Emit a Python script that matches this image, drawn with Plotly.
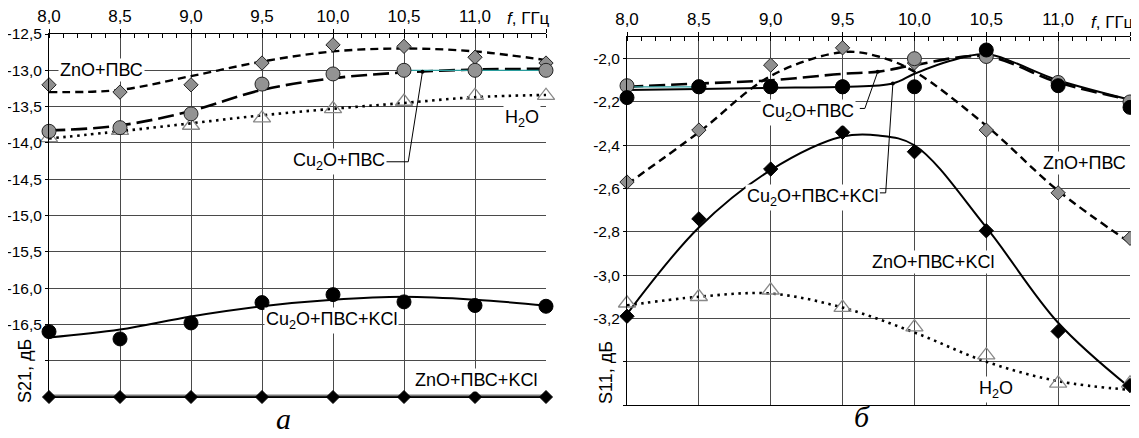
import plotly.graph_objects as go

# ---------------- data ----------------
freq = [8.0, 8.5, 9.0, 9.5, 10.0, 10.5, 11.0, 11.5]

# panel "а" : S21, dB
a_zno_pvs = [-13.2, -13.3, -13.2, -12.9, -12.65, -12.67, -12.82, -12.9]
a_zno_pvs_fit = [-13.30, -13.27, -13.08, -12.88, -12.74, -12.70, -12.74, -12.86]
a_cu2o_pvs = [-13.84, -13.79, -13.6, -13.19, -13.05, -13.0, -13.0, -13.0]
a_cu2o_pvs_fit = [-13.83, -13.76, -13.56, -13.27, -13.11, -13.03, -12.99, -12.98]
a_h2o = [-13.93, -13.83, -13.76, -13.66, -13.53, -13.43, -13.35, -13.35]
a_h2o_fit = [-13.94, -13.84, -13.73, -13.62, -13.53, -13.45, -13.37, -13.34]
a_cu2o_kcl = [-16.6, -16.7, -16.48, -16.2, -16.09, -16.19, -16.24, -16.25]
a_cu2o_kcl_fit = [-16.68, -16.57, -16.39, -16.25, -16.16, -16.12, -16.16, -16.24]
a_zno_kcl = [-17.5, -17.5, -17.5, -17.5, -17.5, -17.5, -17.5, -17.5]
a_teal_x = [10.5, 11.0, 11.5]
a_teal_y = [-13.0, -13.0, -13.0]

# panel "б" : S11, dB
b_zno_pvs = [-2.57, -2.33, -2.03, -1.95, -2.02, -2.33, -2.62, -2.83]
b_zno_pvs_fit_x = [8.0, 8.5, 9.0, 9.5, 9.75, 10.0, 10.5, 11.0, 11.5]
b_zno_pvs_fit = [-2.58, -2.34, -2.08, -1.97, -1.99, -2.06, -2.31, -2.61, -2.85]
b_cu2o_pvs = [-2.125, -2.13, -2.13, -2.13, -2.0, -1.99, -2.11, -2.2]
b_cu2o_pvs_fit_x = [8.0, 8.5, 9.0, 9.5, 9.75, 10.0, 10.5, 11.0, 11.5]
b_cu2o_pvs_fit = [-2.13, -2.115, -2.10, -2.07, -2.06, -2.03, -1.99, -2.11, -2.19]
b_cu2o_kcl = [-2.18, -2.13, -2.13, -2.13, -2.13, -1.96, -2.125, -2.225]
b_cu2o_kcl_fit_x = [8.0, 8.5, 9.0, 9.5, 9.85, 10.0, 10.25, 10.5, 11.0, 11.5]
b_cu2o_kcl_fit = [-2.145, -2.14, -2.135, -2.13, -2.115, -2.07, -2.01, -1.98, -2.10, -2.19]
b_zno_kcl = [-3.19, -2.74, -2.51, -2.34, -2.43, -2.795, -3.26, -3.51]
b_zno_kcl_fit_x = [8.0, 8.5, 9.0, 9.5, 9.75, 10.0, 10.5, 11.0, 11.5]
b_zno_kcl_fit = [-3.18, -2.78, -2.515, -2.36, -2.355, -2.40, -2.78, -3.22, -3.52]
b_h2o = [-3.13, -3.10, -3.07, -3.15, -3.24, -3.37, -3.50, -3.50]
b_h2o_fit = [-3.14, -3.10, -3.085, -3.15, -3.265, -3.40, -3.49, -3.53]
b_teal_x = [8.0, 8.5]
b_teal_y = [-2.13, -2.13]

# ticks
x_tickvals = [8.0, 8.5, 9.0, 9.5, 10.0, 10.5, 11.0, 11.5]
x_ticktext = ["8,0", "8,5", "9,0", "9,5", "10,0", "10,5", "11,0", ""]
a_y_tickvals = [-12.5, -13.0, -13.5, -14.0, -14.5, -15.0, -15.5, -16.0, -16.5, -17.0, -17.5]
a_y_ticktext = ["-12,5", "-13,0", "-13,5", "-14,0", "-14,5", "-15,0", "-15,5", "-16,0", "-16,5", "", ""]
b_y_tickvals = [-2.0, -2.2, -2.4, -2.6, -2.8, -3.0, -3.2, -3.4, -3.6]
b_y_ticktext = ["-2,0", "-2,2", "-2,4", "-2,6", "-2,8", "-3,0", "-3,2", "", ""]

# leader lines (label -> point)
a_leader_x = [10.37, 10.53, 10.63]
a_leader_y = [-14.26, -14.26, -13.02]
b_leader1_x = [9.62, 9.655, 9.745]
b_leader1_y = [-2.23, -2.23, -2.06]
b_leader2_x = [9.76, 9.80, 9.85]
b_leader2_y = [-2.62, -2.62, -2.115]

FONT = "Liberation Sans, Arial, sans-serif"
SERIF = "Liberation Serif, Times New Roman, serif"
GREY_FILL = "#8f8f8f"
GRID = "#4a4a4a"

# the page body adds an 8px margin, so the figure is shrunk by that amount
OFF = 8
W, H = 1139 - OFF, 438 - OFF


def px(x):
    return (x - OFF) / W


def py(y):
    return 1 - (y - OFF) / H


fig = go.Figure()


def add_line(x, y, xa, ya, dash, width=2.4, color="black"):
    fig.add_trace(go.Scatter(x=x, y=y, xaxis=xa, yaxis=ya, mode="lines",
                             line=dict(color=color, width=width, dash=dash, shape="spline", smoothing=1.0),
                             hoverinfo="skip", showlegend=False, cliponaxis=False))


def add_markers(x, y, xa, ya, symbol, size, fill, lcolor="#222", lwidth=1):
    fig.add_trace(go.Scatter(x=x, y=y, xaxis=xa, yaxis=ya, mode="markers",
                             marker=dict(symbol=symbol, size=size, color=fill,
                                         line=dict(color=lcolor, width=lwidth)),
                             showlegend=False, cliponaxis=False))


# ---------- panel a ----------
add_line(freq, a_zno_pvs_fit, "x", "y", "8px,5px")
add_line(freq, a_cu2o_pvs_fit, "x", "y", "16px,6px", width=2.6)
add_line(a_teal_x, a_teal_y, "x", "y", "solid", width=1.2, color="#2a9d9d")
add_line(freq, a_h2o_fit, "x", "y", "2.5px,4.5px", width=2.6)
add_line(freq, a_cu2o_kcl_fit, "x", "y", "solid", width=2)
add_line(freq, a_zno_kcl, "x", "y", "solid", width=5, color="#7a7a7a")
add_line(freq, a_zno_kcl, "x", "y", "solid", width=1.5, color="black")
fig.add_trace(go.Scatter(x=a_leader_x, y=a_leader_y, xaxis="x", yaxis="y", mode="lines",
                         line=dict(color="black", width=1), hoverinfo="skip", showlegend=False))
fig.add_trace(go.Scatter(x=a_leader_x[-1:], y=a_leader_y[-1:], xaxis="x", yaxis="y", mode="markers",
                         marker=dict(color="black", size=4), hoverinfo="skip", showlegend=False))
add_markers(freq, a_h2o, "x", "y", "triangle-up-open", 15, "#888", lcolor="#888", lwidth=1.3)
add_markers(freq, a_zno_pvs, "x", "y", "diamond", 11, GREY_FILL)
add_markers(freq, a_cu2o_pvs, "x", "y", "circle", 14, "#939393")
add_markers(freq, a_cu2o_kcl, "x", "y", "circle", 14, "black", lcolor="black")
add_markers(freq, a_zno_kcl, "x", "y", "diamond", 10, "black", lcolor="black")

# ---------- panel б ----------
add_line(b_zno_pvs_fit_x, b_zno_pvs_fit, "x2", "y2", "8px,5px")
add_line(b_cu2o_pvs_fit_x, b_cu2o_pvs_fit, "x2", "y2", "16px,6px", width=2.6)
add_line(b_teal_x, b_teal_y, "x2", "y2", "solid", width=1.2, color="#2a9d9d")
add_line(b_cu2o_kcl_fit_x, b_cu2o_kcl_fit, "x2", "y2", "solid", width=2)
add_line(b_zno_kcl_fit_x, b_zno_kcl_fit, "x2", "y2", "solid", width=2)
add_line(freq, b_h2o_fit, "x2", "y2", "2.5px,4.5px", width=2.6)
for lx, ly in [(b_leader1_x, b_leader1_y), (b_leader2_x, b_leader2_y)]:
    fig.add_trace(go.Scatter(x=lx, y=ly, xaxis="x2", yaxis="y2", mode="lines",
                             line=dict(color="black", width=1), hoverinfo="skip", showlegend=False))
    fig.add_trace(go.Scatter(x=lx[-1:], y=ly[-1:], xaxis="x2", yaxis="y2", mode="markers",
                             marker=dict(color="black", size=4), hoverinfo="skip", showlegend=False))
add_markers(freq, b_h2o, "x2", "y2", "triangle-up-open", 15, "#888", lcolor="#888", lwidth=1.3)
add_markers(freq, b_zno_pvs, "x2", "y2", "diamond", 11, GREY_FILL)
add_markers(freq, b_cu2o_pvs, "x2", "y2", "circle", 14, "#939393")
add_markers(freq, b_cu2o_kcl, "x2", "y2", "circle", 14, "black", lcolor="black")
add_markers(freq, b_zno_kcl, "x2", "y2", "diamond", 11, "black", lcolor="black")


def xaxis(dom, anchor):
    return dict(domain=dom, anchor=anchor, range=[8.0, 11.5], side="top", automargin=False,
                tickmode="array", tickvals=x_tickvals, ticktext=x_ticktext,
                showline=True, linecolor="black", linewidth=1, mirror=True,
                ticks="outside", ticklen=4, tickcolor="black",
                showgrid=True, gridcolor=GRID, gridwidth=1, zeroline=False,
                minor=dict(dtick=0.1, ticks="inside", ticklen=4, tickcolor="black", showgrid=False),
                tickfont=dict(family=FONT, size=17, color="black"))


def yaxis(dom, anchor, rng, tv, tt):
    return dict(domain=dom, anchor=anchor, range=rng, automargin=False,
                tickmode="array", tickvals=tv, ticktext=tt,
                showline=True, linecolor="black", linewidth=1,
                ticks="outside", ticklen=3, tickcolor="black",
                showgrid=True, gridcolor=GRID, gridwidth=1, zeroline=False,
                tickfont=dict(family=FONT, size=15.5, color="black"))


fig.update_layout(
    width=W, height=H,
    margin=dict(l=0, r=0, t=0, b=0, pad=0, autoexpand=False),
    paper_bgcolor="white", plot_bgcolor="white",
    xaxis=xaxis([px(49), px(546)], "y"),
    yaxis=yaxis([py(397), py(34)], "x", [-17.5, -12.5], a_y_tickvals, a_y_ticktext),
    xaxis2=xaxis([px(627), px(1130)], "y2"),
    yaxis2=yaxis([py(405), py(37)], "x2", [-3.6, -1.9], b_y_tickvals, b_y_ticktext),
    font=dict(family=FONT, size=18, color="black"),
    showlegend=False,
)

LBL = dict(family=FONT, size=18, color="black")


def label(text, x, y, xr, yr):
    fig.add_annotation(text=text, x=x, y=y, xref=xr, yref=yr, showarrow=False,
                       xanchor="center", yanchor="middle",
                       font=LBL, bgcolor="white", borderpad=1)


def paper_text(text, x, y, font, xanchor="center", angle=0):
    fig.add_annotation(text=text, x=px(x), y=py(y), xref="paper", yref="paper",
                       xanchor=xanchor, yanchor="middle", textangle=angle,
                       showarrow=False, font=font)


# panel a labels
label("ZnO+ПВС", 8.37, -13.0, "x", "y")
label("Cu<sub>2</sub>O+ПВС", 10.04, -14.26, "x", "y")
label("H<sub>2</sub>O", 11.33, -13.66, "x", "y")
label("Cu<sub>2</sub>O+ПВС+KCl", 9.99, -16.45, "x", "y")
label("ZnO+ПВС+KCl", 11.01, -17.26, "x", "y")
# panel б labels
label("Cu<sub>2</sub>O+ПВС", 9.26, -2.248, "x2", "y2")
label("Cu<sub>2</sub>O+ПВС+KCl", 9.29, -2.64, "x2", "y2")
label("ZnO+ПВС", 11.18, -2.48, "x2", "y2")
label("ZnO+ПВС+KCl", 10.13, -2.94, "x2", "y2")
label("H<sub>2</sub>O", 10.57, -3.53, "x2", "y2")

# axis titles and panel letters
paper_text("<i>f</i>, ГГц", 552, 18, dict(family=FONT, size=17), xanchor="right")
paper_text("<i>f</i>, ГГц", 1136, 22, dict(family=FONT, size=17), xanchor="right")
paper_text("S21, дБ", 25, 371, LBL, angle=-90)
paper_text("S11, дБ", 606, 373, LBL, angle=-90)
paper_text("<i>а</i>", 283, 418, dict(family=SERIF, size=30))
paper_text("<i>б</i>", 862, 416, dict(family=SERIF, size=30))

fig.write_html("out.html")
